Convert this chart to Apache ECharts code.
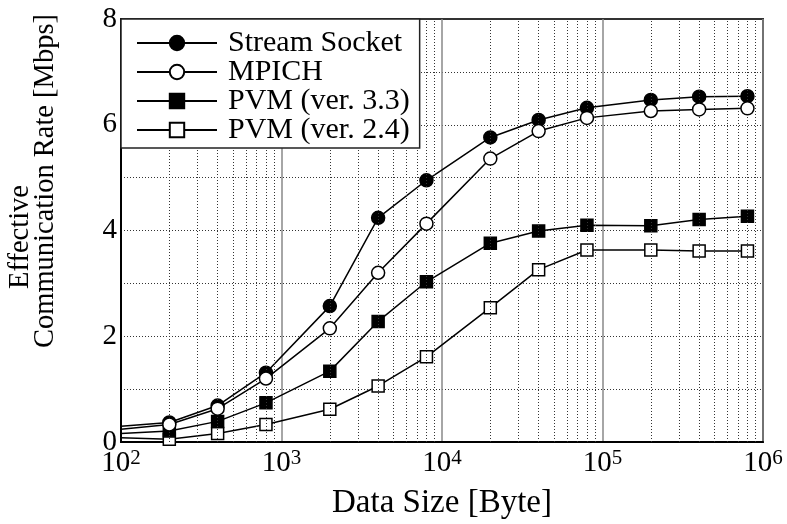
<!DOCTYPE html>
<html>
<head>
<meta charset="utf-8">
<script src="https://cdn.jsdelivr.net/npm/echarts@6/dist/echarts.min.js"></script>
<style>
  html, body { margin: 0; padding: 0; background: #fff; }
  #chart { width: 787px; height: 524px; }
</style>
</head>
<body>
<div id="chart"></div>
<script>
// data size in bytes (first point has no marker, the curve just enters from the left)
var dataSizes = [100, 200, 400, 800, 2000, 4000, 8000, 20000, 40000, 80000, 200000, 400000, 800000];

var streamSocket = [0.30, 0.37, 0.69, 1.31, 2.57, 4.24, 4.95, 5.76, 6.09, 6.32, 6.47, 6.53, 6.54];
var mpich = [0.24, 0.33, 0.63, 1.20, 2.15, 3.20, 4.13, 5.36, 5.88, 6.13, 6.26, 6.29, 6.31];
var pvm33 = [0.16, 0.21, 0.39, 0.74, 1.34, 2.28, 3.03, 3.76, 3.99, 4.10, 4.09, 4.21, 4.27];
var pvm24 = [0.08, 0.05, 0.16, 0.33, 0.62, 1.06, 1.61, 2.54, 3.26, 3.63, 3.63, 3.61, 3.61];

var seriesNames = ['Stream Socket', 'MPICH', 'PVM (ver. 3.3)', 'PVM (ver. 2.4)'];

// minor log grid positions (2..9 of each decade)
var minorGrid = [];
[100, 1000, 10000, 100000].forEach(function (d) {
  for (var k = 2; k <= 9; k++) minorGrid.push(d * k);
});

var FONT = '"Liberation Serif", "Times New Roman", serif';

function toData(values) {
  return values.map(function (v, i) {
    var item = {value: [dataSizes[i], v]};
    if (i === 0) item.symbol = 'none';
    return item;
  });
}

function makeSeries(name, values, symbol, filled, z) {
  return {
    name: name,
    type: 'line',
    data: toData(values),
    symbol: symbol,
    symbolSize: symbol === 'rect' ? 12 : 13,
    showAllSymbol: true,
    z: z,
    lineStyle: {color: '#000', width: 1.5},
    itemStyle: {color: filled ? '#000' : '#fff', borderColor: '#000', borderWidth: 1.5},
    emphasis: {disabled: true},
    animation: false
  };
}

var chart = echarts.init(document.getElementById('chart'), null, {renderer: 'canvas'});

var option = {
  backgroundColor: '#fff',
  animation: false,
  textStyle: {fontFamily: FONT},
  grid: {
    left: 121, right: 24, top: 19, bottom: 82,
    outerBoundsMode: 'none',
    containLabel: false,
    show: true, borderColor: '#333', borderWidth: 2, backgroundColor: 'transparent'
  },
  legend: {
    data: seriesNames,
    orient: 'vertical',
    left: 121, top: 19,
    itemWidth: 80, itemHeight: 18, itemGap: -1,
    padding: [9, 10, 3, 15],
    backgroundColor: '#fff',
    borderColor: '#222', borderWidth: 1.5,
    z: 10,
    textStyle: {fontFamily: FONT, fontSize: 30, color: '#000', lineHeight: 29, padding: [0, 0, 0, 6]},
    selectedMode: false
  },
  xAxis: {
    type: 'log', logBase: 10, min: 100, max: 1000000,
    name: 'Data Size [Byte]', nameLocation: 'middle', nameGap: 45,
    nameTextStyle: {fontFamily: FONT, fontSize: 33, color: '#000'},
    axisLine: {lineStyle: {color: '#000', width: 2}},
    axisTick: {show: false},
    axisLabel: {
      margin: 6,
      formatter: function (v) {
        return '{b|10}{s|' + Math.round(Math.log10(v)) + '}';
      },
      rich: {
        b: {fontFamily: FONT, fontSize: 29, color: '#000', lineHeight: 30},
        s: {fontFamily: FONT, fontSize: 21, color: '#000', verticalAlign: 'top', lineHeight: 30, padding: [0, 0, 8, 0]}
      }
    },
    splitLine: {show: true, lineStyle: {color: '#888', width: 1.5}}
  },
  yAxis: {
    type: 'value', min: 0, max: 8, interval: 2,
    axisLine: {show: true, lineStyle: {color: '#000', width: 2}},
    axisTick: {show: false},
    axisLabel: {fontFamily: FONT, fontSize: 29, color: '#000', margin: 4},
    splitLine: {show: true, lineStyle: {color: '#333', width: 1, type: [1, 2]}},
    minorTick: {show: false, splitNumber: 2},
    minorSplitLine: {show: true, lineStyle: {color: '#333', width: 1, type: [1, 2]}}
  },
  graphic: [
    {
      type: 'text', x: 21, y: 237, rotation: Math.PI / 2,
      style: {text: 'Effective', font: '28.5px ' + FONT, fill: '#000', align: 'center', verticalAlign: 'middle'}
    },
    {
      type: 'text', x: 46, y: 181, rotation: Math.PI / 2,
      style: {text: 'Communication Rate [Mbps]', font: '28.5px ' + FONT, fill: '#000', align: 'center', verticalAlign: 'middle'}
    }
  ],
  series: [
    makeSeries(seriesNames[0], streamSocket, 'circle', true, 4),
    makeSeries(seriesNames[1], mpich, 'circle', false, 5),
    makeSeries(seriesNames[2], pvm33, 'rect', true, 3),
    makeSeries(seriesNames[3], pvm24, 'rect', false, 2),
    {
      // dotted minor grid for the log axis
      name: 'minor-grid',
      type: 'line',
      data: [],
      z: 1,
      silent: true,
      markLine: {
        silent: true,
        symbol: 'none',
        label: {show: false},
        lineStyle: {color: '#333', width: 1, type: [1, 2]},
        data: minorGrid.map(function (x) { return {xAxis: x}; }),
        animation: false
      }
    }
  ]
};

chart.setOption(option);
</script>
</body>
</html>
